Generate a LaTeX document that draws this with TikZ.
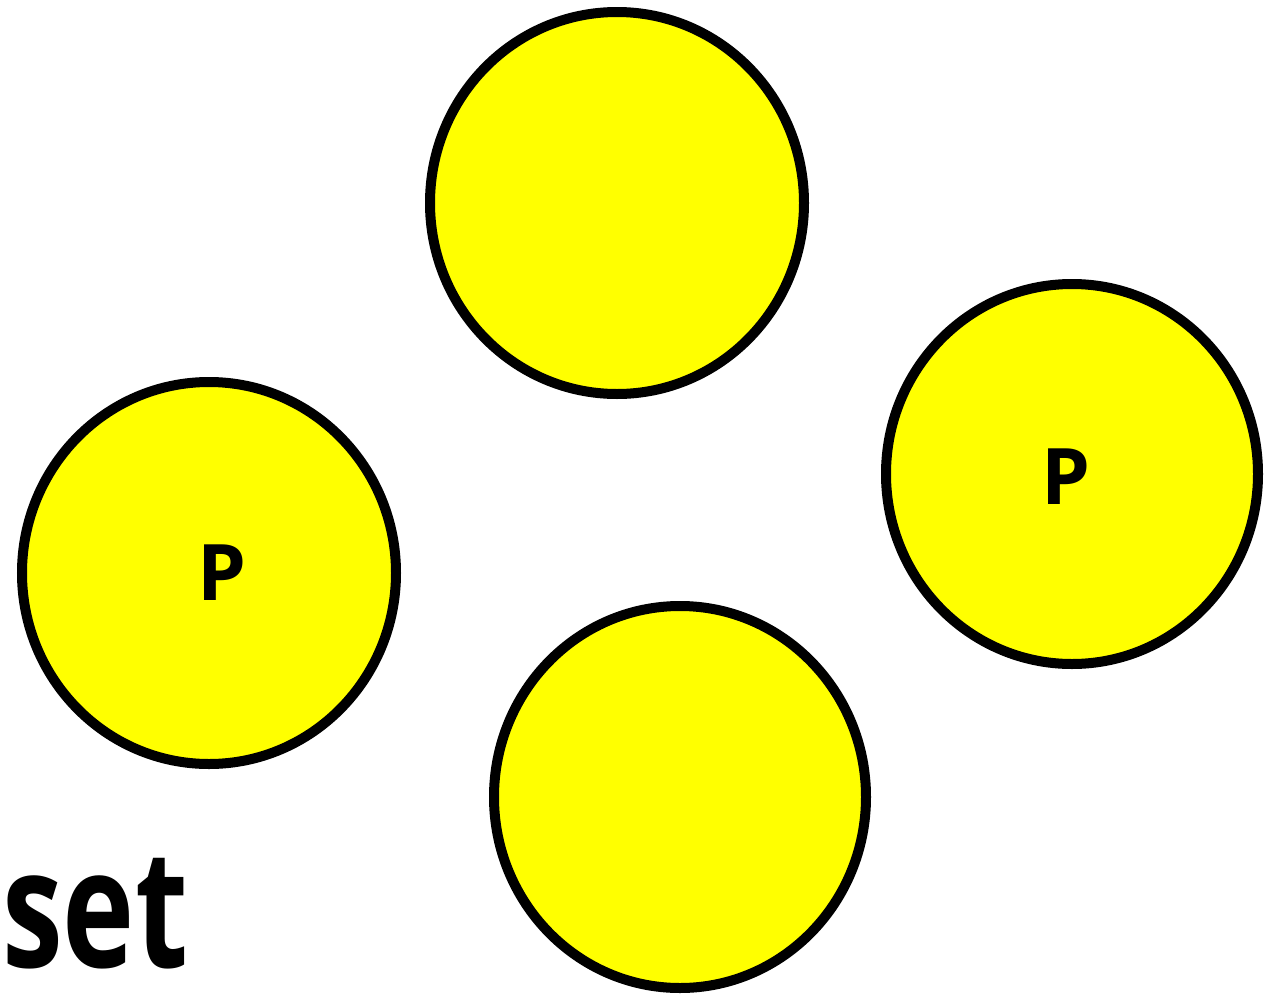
\documentclass[tikz,border=0pt]{standalone}
\usepackage{fontspec}
\setmainfont{Open Sans}
\definecolor{ballyellow}{RGB}{255,255,0}
\begin{document}
\begin{tikzpicture}[x=1pt,y=-1pt,
  ball/.style={draw=black,fill=ballyellow,line width=10pt},
  lbl/.style={font=\fontsize{78}{80}\selectfont\bfseries,inner sep=0pt}]
\useasboundingbox (0,0) rectangle (1272,996);
\fill[white] (0,0) rectangle (1272,996);
\draw[ball] (617,203) ellipse [x radius=187, y radius=191];
\draw[ball] (209,573) ellipse [x radius=187, y radius=191];
\draw[ball] (1072,474) ellipse [x radius=186, y radius=190];
\draw[ball] (680,797) ellipse [x radius=186, y radius=191];
\node[lbl] (pl) at (222,573) {P};
\node[lbl] (pr) at (1066,477) {P};
\node[inner sep=0pt,anchor=base west,font=\fontsize{165}{170}\selectfont\bfseries] (set) at (2,967) {\scalebox{0.74}[1]{set}};
\end{tikzpicture}
\end{document}
